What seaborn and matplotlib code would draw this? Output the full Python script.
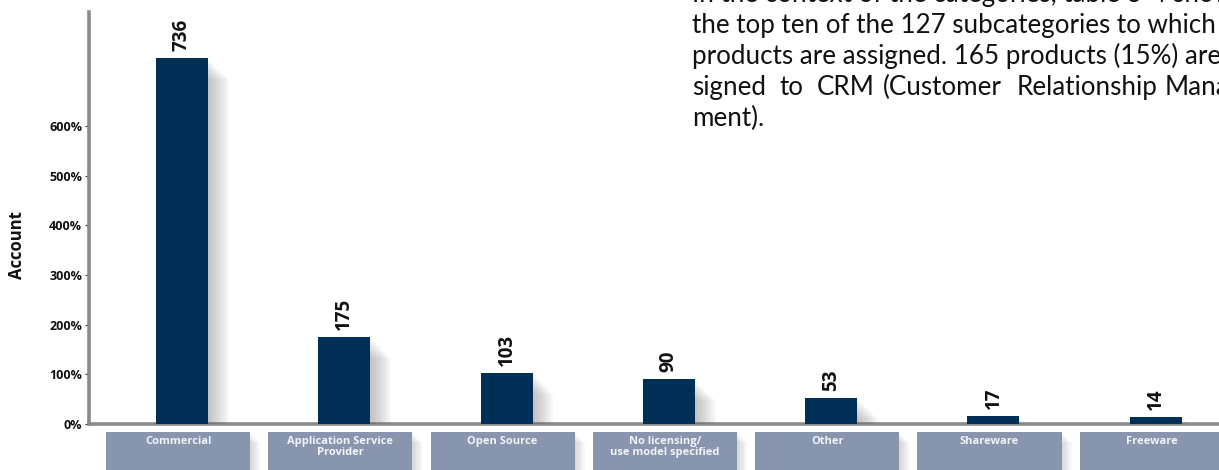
import matplotlib
matplotlib.use("Agg")
import matplotlib.pyplot as plt
import matplotlib.patheffects as pe
from matplotlib.patches import Rectangle
from matplotlib.transforms import blended_transform_factory
import pandas as pd
import seaborn as sns

# Licensing / use models and number of products per model
categories = ["Commercial", "Application Service\nProvider", "Open Source",
              "No licensing/\nuse model specified", "Other", "Shareware", "Freeware"]
counts = [736, 175, 103, 90, 53, 17, 14]
y_ticks = [0, 100, 200, 300, 400, 500, 600]
y_tick_labels = [f"{t}%" for t in y_ticks]

paragraph_lines = [
    "In the context of the categories, table 3-4 shows",
    "the top ten of the 127 subcategories to which most",
    "products are assigned. 165 products (15%) are as-",
    None,  # justified line, placed word by word below
    "ment).",
]
justified_words = ["signed", "to", "CRM", "(Customer", "Relationship", "Management"]

BAR = "#003057"
BOX = "#8795AE"
AXIS = "#8a8a8a"
LABEL_FONT = ["Open Sans", "DejaVu Sans"]
BODY_FONT = ["Lato", "DejaVu Sans"]

sns.set_theme(style="white")
plt.rcParams["font.family"] = LABEL_FONT

fig = plt.figure(figsize=(12.19, 4.70), dpi=100)
ax = fig.add_axes([89 / 1219, 46 / 470, 1130 / 1219, 412 / 470])

df = pd.DataFrame({"category": categories, "count": counts})


def soft_shadow(step=1.4, n=8, alpha=0.045):
    effects = []
    for k in range(1, n + 1):
        d = k * step
        effects.append(pe.SimplePatchShadow(offset=(d, -d), shadow_rgbFace="#555555",
                                            alpha=alpha))
    effects.append(pe.Normal())
    return effects


sns.barplot(data=df, x="category", y="count", color=BAR, width=0.32,
            saturation=1, ax=ax, zorder=3)
for bar in ax.patches:
    bar.set_edgecolor("none")
    bar.set_path_effects(soft_shadow(step=1.5, n=10, alpha=0.04))

ax.set_xlim(-0.573, 6.39)
ax.set_ylim(0, 829)

# value labels above bars
for i, v in enumerate(counts):
    ax.annotate(str(v), xy=(i, v), xytext=(0, 5), textcoords="offset points",
                rotation=90, ha="center", va="bottom", fontsize=13.5,
                fontweight="bold", color="#111111", zorder=4)

# axes styling
for side in ["top", "right"]:
    ax.spines[side].set_visible(False)
for side in ["left", "bottom"]:
    ax.spines[side].set_color(AXIS)
    ax.spines[side].set_linewidth(2.6)
ax.set_yticks(y_ticks)
ax.set_yticklabels(y_tick_labels, fontsize=9, fontweight="bold", color="#111111")
ax.tick_params(axis="y", left=True, length=3, width=0.8, color="#333333", pad=2)
ax.set_xticks([])
ax.set_xlabel("")
ax.set_ylabel("Account", fontsize=12, fontweight="bold", color="#111111")
ax.yaxis.set_label_coords(-0.0555, 0.434)

# category label boxes under the axis
trans = blended_transform_factory(ax.transData, ax.transAxes)
box_w = 0.888
for i, name in enumerate(categories):
    rect = Rectangle((i - 0.024 - box_w / 2, -0.16), box_w, 0.14, transform=trans,
                     facecolor=BOX, edgecolor="none", clip_on=False, zorder=2)
    rect.set_path_effects(soft_shadow(step=1.2, n=6, alpha=0.04))
    ax.add_patch(rect)
    ax.text(i - 0.024, -0.029, name, transform=trans, ha="center", va="top",
            fontsize=8, fontweight="bold", color="#F2F4F8", linespacing=1.0,
            clip_on=False, zorder=3)

# running text to the upper right
line_h = 31
base0 = 2
for j, line in enumerate(paragraph_lines):
    if line is None:
        continue
    y = 470 - (base0 + j * line_h)
    fig.text(692 / 1219, y / 470, line, ha="left", va="baseline", fontsize=18.7,
             color="#111111", family=BODY_FONT)
word_x = [692, 780, 817, 883, 1017, 1165]
y4 = 470 - (base0 + 3 * line_h)
for w, xw in zip(justified_words, word_x):
    fig.text(xw / 1219, y4 / 470, w, ha="left", va="baseline", fontsize=18.7,
             color="#111111", family=BODY_FONT)

fig.savefig("out.png", dpi=100)
